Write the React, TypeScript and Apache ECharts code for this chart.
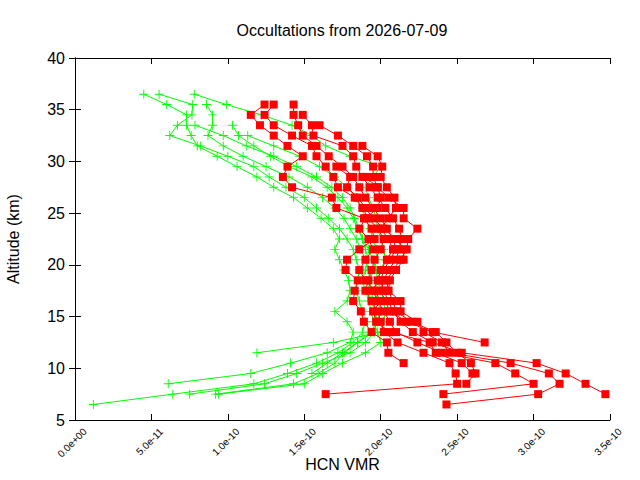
import { useEffect, useRef } from "react";
import * as echarts from "echarts";

// Retrieval altitude grid (km), top to bottom
const ALTITUDES = [
  36.5, 35.5, 34.5, 33.5, 32.5, 31.5, 30.5, 29.5, 28.5, 27.5, 26.5, 25.5, 24.5, 23.5, 22.5, 21.5,
  20.5, 19.5, 18.5, 17.5, 16.5, 15.5, 14.5, 13.5, 12.5, 11.5, 10.5, 9.5, 8.5, 7.5, 6.5,
];

// HCN volume mixing ratios in units of 1e-10, aligned with ALTITUDES (null = no retrieval)
const VMR_UNIT = 1e-10;

const G1 = [0.45, 0.6, 0.73, 0.73, 0.76, 0.8, 0.93, 1.06, 1.19, 1.3, 1.43, 1.52, 1.61, 1.69, 1.73, 1.7, 1.73, 1.76, 1.79, 1.8, 1.78, 1.7, 1.78, 1.82, 1.8, 1.65, 1.41, 1.15, 0.61, null, null];
const G2 = [0.55, 0.77, 0.765, 0.67, 0.62, 0.82, 1.0, 1.17, 1.27, 1.38, 1.5, 1.58, 1.66, 1.73, 1.78, 1.82, 1.84, 1.86, 1.85, 1.84, 1.86, 1.88, 1.9, 1.88, 1.82, 1.72, 1.58, 1.39, 1.17, 0.64, 0.12];
const G3 = [0.78, 0.99, 1.22, 1.42, 1.55, 1.64, 1.8, 2.0, 1.95, 1.9, 1.92, 1.95, 1.97, 1.98, 2.0, 2.02, 2.03, 2.0, 1.98, 1.96, 1.98, 2.0, 1.98, 1.95, 1.85, 1.76, 1.7, 1.59, 1.43, 0.92, null];
const G4 = [null, 0.86, 0.9, 0.9, 0.87, 0.97, 1.1, 1.25, 1.4, 1.52, 1.62, 1.7, 1.76, 1.8, 1.84, 1.87, 1.9, 1.92, 1.93, 1.94, 1.95, 1.96, 1.97, 1.96, 1.9, 1.8, 1.62, 1.45, 1.24, 0.75, null];
const G5 = [null, null, null, 0.785, 0.97, 1.12, 1.3, 1.45, 1.58, 1.68, 1.75, 1.8, 1.83, 1.86, 1.88, 1.9, 1.92, 1.9, 1.88, 1.9, 1.92, 1.94, 1.95, 1.98, 2.0, 1.9, 1.75, 1.62, 1.5, 0.94, null];
const G6 = [null, null, null, 1.03, 1.07, 1.17, 1.28, 1.4, 1.55, 1.65, 1.72, 1.78, 1.82, 1.85, 1.88, 1.92, 1.95, 1.97, 1.98, 2.0, 2.02, 2.03, 2.02, 2.0, 1.69, 1.19, null, null, null, null, null];
const G7 = [null, null, null, null, 1.13, 1.3, 1.47, 1.6, 1.7, 1.78, 1.84, 1.88, 1.9, 1.93, 1.95, 1.97, 1.98, 1.95, 1.93, 1.92, 1.94, 1.96, 1.98, 1.93, 1.85, 1.75, 1.65, 1.55, null, null, null];

const R1 = [null, 1.24, 1.15, 1.21, 1.3, 1.39, 1.49, 1.39, 1.36, 1.42, 1.68, 1.71, 1.89, 1.94, 1.96, 1.86, 1.78, 1.77, 1.85, 1.83, 1.82, 1.87, 1.89, 1.94, 2.04, 2.05, 2.15, null, null, null, null];
const R2 = [null, 1.3, 1.24, 1.3, 1.42, 1.55, 1.58, 1.64, 1.69, 1.72, 1.83, 1.88, 1.92, 1.98, 2.02, 2.0, 1.96, 1.94, 1.92, 1.9, 1.94, 1.98, 2.0, 2.02, 2.11, 2.28, 2.45, 2.49, 2.5, 1.64, null];
const R3 = [null, 1.43, 1.43, 1.46, 1.49, 1.58, 1.66, 1.75, 1.82, 1.86, 1.9, 1.95, 2.0, 2.04, 2.08, 2.1, 2.06, 2.02, 2.0, 2.02, 2.05, 2.08, 2.13, 2.21, 2.34, 2.53, 3.02, 3.21, 3.34, 3.47, null];
const R4 = [null, null, 1.49, 1.55, 1.56, 1.75, 1.82, 1.84, 1.88, 1.93, 1.98, 2.03, 2.08, 2.12, 2.14, 2.12, 2.1, 2.05, 2.02, 2.0, 2.03, 2.06, 2.17, 2.34, 2.68, null, null, null, null, null, null];
const R5 = [null, null, null, 1.6, 1.72, 1.82, 1.91, 1.95, 1.95, 1.98, 2.05, 2.15, 2.15, 2.24, 2.18, 2.17, 2.13, 2.08, 2.04, 2.05, 2.13, 2.13, 2.24, 2.28, 2.4, 2.45, 2.85, 3.1, 3.17, 3.03, 2.43];
const R6 = [null, null, null, null, null, 1.88, 1.98, 2.01, 2.0, 2.04, 2.09, 2.1, 2.05, 2.0, 2.05, 2.08, 2.04, 2.0, 1.98, 1.95, 1.98, 2.02, 2.06, 2.1, 2.24, 2.4, 2.75, 2.88, 3.0, 2.41, null];
const R7 = [null, null, null, null, null, null, null, 1.71, 1.8, 1.78, 1.85, 1.9, 1.95, 2.02, 2.1, 2.15, 2.15, 2.1, 2.06, 2.05, 2.08, 2.1, 2.2, 2.36, 2.43, 2.5, 2.59, 2.62, 2.56, null, null];
const R8 = [null, null, null, null, null, null, null, null, 1.9, 1.98, 2.0, 1.98, 1.9, 1.86, 1.92, 1.95, 1.9, 1.86, 1.9, 1.96, 2.0, 1.95, 1.97, 2.06, 2.32, 2.36, 2.53, 2.6, null, null, null];

const GREEN_PROFILES = [G1, G2, G3, G4, G5, G6, G7];
const RED_PROFILES = [R1, R2, R3, R4, R5, R6, R7, R8];

const X_MIN = 0;
const X_MAX = 3.5;
const X_STEP = 0.5;
const Y_MIN = 5;
const Y_MAX = 40;
const Y_STEP = 5;

const GREEN = "#00ff00";
const RED = "#ff0000";
const FONT = "Liberation Sans";
const PLUS = "path://M0,4.5H10V5.5H0Z M4.5,0H5.5V10H4.5Z";

function toPoints(profile: (number | null)[]) {
  const pts: [number, number][] = [];
  profile.forEach((v, i) => {
    if (v !== null) pts.push([v, ALTITUDES[i]]);
  });
  return pts;
}

function formatVmr(v: number) {
  if (v === 0) return "0.0e+00";
  return (v * VMR_UNIT).toExponential(1);
}

export default function App() {
  const ref = useRef<HTMLDivElement>(null);

  useEffect(() => {
    if (!ref.current) return;
    const chart = echarts.init(ref.current, null, { renderer: "svg" });

    const tickStyle = { inside: true, length: 6, lineStyle: { color: "#000", width: 1 } };
    const lineStyle = { lineStyle: { color: "#000", width: 1 } };

    const greenSeries = GREEN_PROFILES.map((p) => ({
      type: "line" as const,
      data: toPoints(p),
      symbol: PLUS,
      symbolSize: 9,
      showAllSymbol: true,
      itemStyle: { color: GREEN },
      lineStyle: { color: GREEN, width: 1 },
      z: 2,
    }));
    const redSeries = RED_PROFILES.map((p) => ({
      type: "line" as const,
      data: toPoints(p),
      symbol: "rect",
      symbolSize: 8,
      showAllSymbol: true,
      itemStyle: { color: RED },
      lineStyle: { color: RED, width: 1 },
      z: 3,
    }));

    chart.setOption({
      animation: false,
      backgroundColor: "#fff",
      title: {
        text: "Occultations from 2026-07-09",
        left: 337,
        top: 17,
        textAlign: "center",
        textStyle: { fontFamily: FONT, fontSize: 16, fontWeight: "normal", color: "#000" },
      },
      grid: { left: 75, right: 30, top: 58, bottom: 60, containLabel: false, outerBoundsMode: "none" },
      xAxis: [
        {
          type: "value",
          min: X_MIN,
          max: X_MAX,
          interval: X_STEP,
          name: "HCN VMR",
          nameLocation: "middle",
          nameGap: 36,
          nameMoveOverlap: false,
          nameTextStyle: { fontFamily: FONT, fontSize: 16, color: "#000" },
          axisLine: lineStyle,
          axisTick: tickStyle,
          splitLine: { show: false },
          axisLabel: {
            rotate: 45,
            margin: 0,
            verticalAlign: "top",
            padding: [9, 0, 0, 0],
            fontFamily: FONT,
            fontSize: 10,
            color: "#000",
            formatter: formatVmr,
          },
        },
        {
          type: "value",
          position: "top",
          min: X_MIN,
          max: X_MAX,
          interval: X_STEP,
          axisLine: lineStyle,
          axisTick: tickStyle,
          axisLabel: { show: false },
          splitLine: { show: false },
        },
      ],
      yAxis: [
        {
          type: "value",
          min: Y_MIN,
          max: Y_MAX,
          interval: Y_STEP,
          name: "Altitude (km)",
          nameLocation: "middle",
          nameGap: 54,
          nameMoveOverlap: false,
          nameRotate: 90,
          nameTextStyle: { fontFamily: FONT, fontSize: 16, color: "#000" },
          axisLine: { show: true, ...lineStyle },
          axisTick: tickStyle,
          splitLine: { show: false },
          axisLabel: { margin: 10, fontFamily: FONT, fontSize: 16, color: "#000" },
        },
        {
          type: "value",
          position: "right",
          min: Y_MIN,
          max: Y_MAX,
          interval: Y_STEP,
          axisLine: { show: true, ...lineStyle },
          axisTick: tickStyle,
          axisLabel: { show: false },
          splitLine: { show: false },
        },
      ],
      series: [...greenSeries, ...redSeries],
    });

    return () => chart.dispose();
  }, []);

  return (
    <div
      ref={ref}
      style={{ position: "fixed", left: 0, top: 0, width: 640, height: 480, background: "#fff" }}
    />
  );
}
